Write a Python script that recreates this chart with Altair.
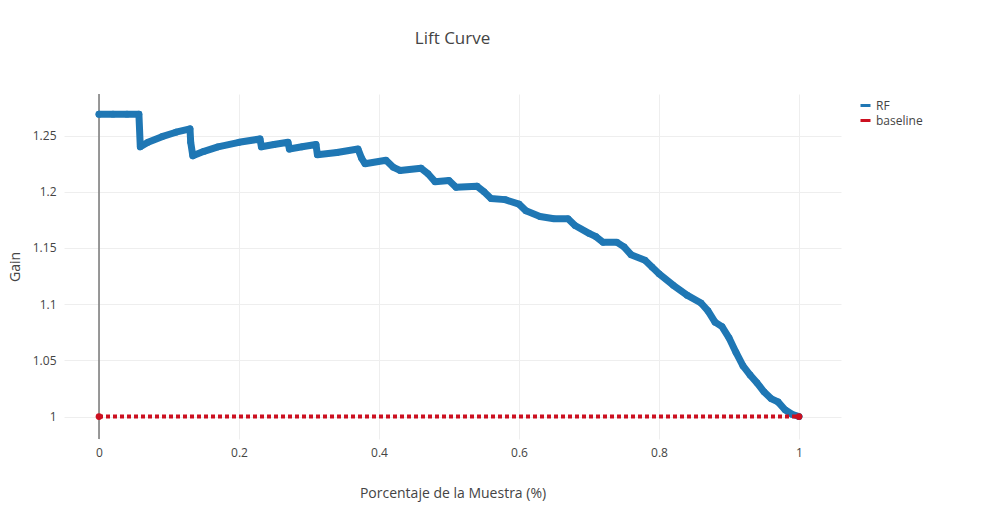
import altair as alt
import pandas as pd

# RF lift curve
rf_x = [0, 0.02, 0.04, 0.057, 0.059, 0.07, 0.09, 0.11, 0.13, 0.131, 0.134, 0.15, 0.17, 0.2, 0.23,
        0.232, 0.25, 0.27, 0.272, 0.29, 0.31, 0.312, 0.34, 0.37, 0.375, 0.38, 0.41, 0.42, 0.43,
        0.46, 0.47, 0.48, 0.5, 0.51, 0.54, 0.55, 0.56, 0.58, 0.6, 0.61, 0.63, 0.65, 0.67, 0.68,
        0.7, 0.71, 0.72, 0.74, 0.75, 0.76, 0.78, 0.79, 0.8, 0.82, 0.84, 0.86, 0.87, 0.88, 0.89,
        0.9, 0.91, 0.92, 0.93, 0.94, 0.95, 0.96, 0.97, 0.98, 0.99, 1.0]
rf_y = [1.269, 1.269, 1.269, 1.269, 1.240, 1.244, 1.249, 1.253, 1.256, 1.244, 1.232, 1.236, 1.240,
        1.244, 1.247, 1.240, 1.242, 1.244, 1.238, 1.240, 1.242, 1.233, 1.235, 1.238, 1.230, 1.225,
        1.228, 1.222, 1.219, 1.221, 1.216, 1.209, 1.210, 1.204, 1.205, 1.200, 1.194, 1.193, 1.189,
        1.183, 1.178, 1.176, 1.176, 1.170, 1.163, 1.160, 1.155, 1.155, 1.151, 1.144, 1.139, 1.133,
        1.127, 1.117, 1.108, 1.101, 1.094, 1.084, 1.080, 1.070, 1.057, 1.045, 1.037, 1.030, 1.022,
        1.016, 1.013, 1.006, 1.002, 1.0]
base_x = [0, 1]
base_y = [1, 1]


def main():
    rf = pd.DataFrame({"x": rf_x, "y": rf_y, "serie": "RF"})
    base = pd.DataFrame({"x": base_x, "y": base_y, "serie": "baseline"})

    xs = alt.Scale(domain=[-0.05, 1.06], nice=False, zero=False)
    ys = alt.Scale(domain=[0.98, 1.287], nice=False, zero=False)
    color = alt.Scale(domain=["RF", "baseline"], range=["#1f77b4", "#cc1020"])
    xax = alt.Axis(values=[0, 0.2, 0.4, 0.6, 0.8, 1], format=".1~f", title="Porcentaje de la Muestra (%)",
                   titlePadding=28)
    yax = alt.Axis(values=[1, 1.05, 1.1, 1.15, 1.2, 1.25], format=".2~f", title="Gain", titlePadding=10)

    zero = alt.Chart(pd.DataFrame({"x": [0]})).mark_rule(color="#777", strokeWidth=1.5).encode(
        x=alt.X("x:Q", scale=xs))
    rf_line = alt.Chart(rf).mark_line(strokeWidth=7, strokeCap="round", strokeJoin="round").encode(
        x=alt.X("x:Q", scale=xs, axis=xax),
        y=alt.Y("y:Q", scale=ys, axis=yax),
        color=alt.Color("serie:N", scale=color, title=None,
                        legend=alt.Legend(orient="none", legendX=795, legendY=5, symbolType="stroke",
                                          symbolStrokeWidth=3, labelFontSize=12, labelColor="#444"))
    )
    rf_pts = alt.Chart(rf).mark_circle(size=45, opacity=1, color="#1f77b4").encode(
        x=alt.X("x:Q", scale=xs), y=alt.Y("y:Q", scale=ys))
    base_line = alt.Chart(base).mark_line(strokeWidth=4, strokeDash=[4, 3]).encode(
        x=alt.X("x:Q", scale=xs), y=alt.Y("y:Q", scale=ys),
        color=alt.Color("serie:N", scale=color))
    base_pts = alt.Chart(base).mark_circle(size=45, opacity=1, color="#cc1020").encode(
        x=alt.X("x:Q", scale=xs), y=alt.Y("y:Q", scale=ys))

    chart = (zero + rf_line + rf_pts + base_line + base_pts).properties(
        width=777, height=345,
        padding={"left": 0, "top": 22, "right": 0, "bottom": 5},
        title=alt.TitleParams("Lift Curve", fontSize=17, fontWeight="normal", color="#444",
                              font="Open Sans", anchor="middle", offset=45)
    ).configure_axis(
        grid=True, gridColor="#eee", domain=False, ticks=False, labelColor="#444", labelFontSize=12,
        labelFont="Open Sans", titleFont="Open Sans", titleFontSize=14, titleFontWeight="normal",
        titleColor="#444", labelPadding=8
    ).configure_legend(labelFont="Open Sans").configure_view(stroke=None)

    chart.save("out.html", embed_options={"renderer": "svg", "actions": False})


if __name__ == "__main__":
    main()
